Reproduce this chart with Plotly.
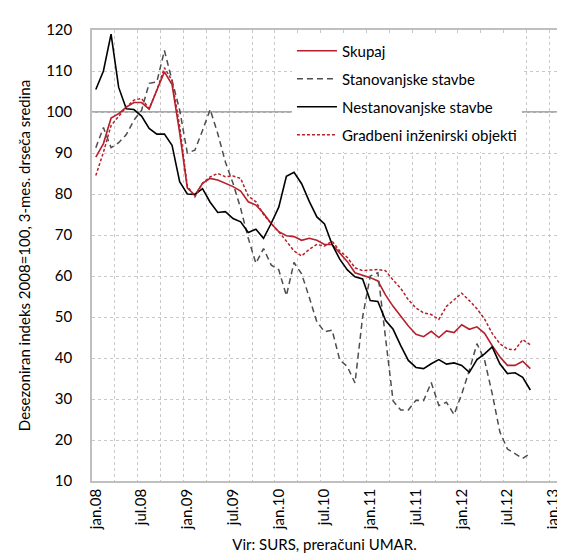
import plotly.graph_objects as go

months = list(range(58))  # jan.08 ... okt.12

skupaj = [89, 92.3, 98.5, 99.6, 101.2, 102.3, 102.3, 100.7, 105.3, 109.8, 106.7, 95,
          81.5, 79.7, 82.6, 83.8, 83.4, 82.6, 81.8, 80.7, 78.1, 77.3, 75.3, 72.8,
          70.8, 69.8, 69.6, 68.7, 69.2, 68.7, 67.7, 67.7, 65.7, 63.5, 60.8, 60.2,
          59.6, 58.8, 55.4, 52.6, 50.2, 47.8, 45.8, 45.2, 46.5, 45.0, 46.6, 46.2,
          48.1, 47.0, 47.6, 46.0, 43.0, 40.3, 38.2, 38.2, 39.2, 37.4]

stanovanjske = [91.3, 96.2, 91.3, 92.5, 94.5, 98.0, 100.4, 107.0, 107.3, 115.0, 107.7, 100.5,
                90.0, 90.7, 95.5, 100.6, 94.7, 87.8, 82.6, 76.5, 69.2, 63.1, 66.7, 62.7,
                61.5, 55.2, 63.3, 60.5, 54.8, 48.8, 46.4, 46.8, 39.5, 37.9, 33.9, 50.0,
                60.0, 60.8, 45.0, 29.5, 27.3, 27.3, 29.7, 29.6, 34.0, 28.4, 29.2, 26.2,
                31.2, 37.0, 43.5, 39.5, 31.3, 22.0, 17.8, 16.6, 15.5, 16.7]

nestanovanjske = [105.5, 110.0, 119.0, 106.0, 100.8, 100.6, 99.0, 96.0, 94.6, 94.6, 91.9, 83.0,
                  80.0, 79.9, 81.3, 78.0, 75.5, 75.7, 74.0, 73.2, 70.6, 71.4, 69.2, 72.8,
                  76.8, 84.3, 85.3, 82.5, 78.2, 74.4, 72.7, 67.7, 64.1, 61.5, 59.8, 59.3,
                  54.0, 53.8, 49.2, 47.0, 43.0, 39.4, 37.7, 37.4, 38.6, 39.6, 38.5, 38.8,
                  38.2, 36.5, 39.6, 41.0, 42.7, 38.6, 36.2, 36.4, 35.3, 32.2]

gradbeni = [84.5, 90.2, 96.7, 99.0, 101.2, 102.9, 103.3, 100.8, 105.3, 110.8, 107.7, 96.5,
            82.0, 79.3, 82.6, 84.2, 85.0, 84.2, 84.4, 83.8, 79.5, 78.1, 75.0, 72.8,
            70.8, 68.5, 66.1, 64.9, 66.5, 67.7, 67.3, 68.5, 66.1, 64.5, 62.0, 61.3,
            61.5, 61.6, 61.3, 59.0, 57.0, 54.2, 52.2, 51.0, 50.6, 49.4, 52.6, 54.2,
            55.8, 54.0, 52.0, 49.5, 46.0, 43.5, 42.2, 42.0, 44.5, 43.2]

tick_pos = [0, 6, 12, 18, 24, 30, 36, 42, 48, 54, 60]
tick_labels = ["jan.08", "jul.08", "jan.09", "jul.09", "jan.10", "jul.10",
               "jan.11", "jul.11", "jan.12", "jul.12", "jan.13"]

FONT = "Lato"
RED = "#B5202A"

fig = go.Figure()
fig.add_trace(go.Scatter(x=months, y=skupaj, name="Skupaj", mode="lines",
                         legendgroup="a", line=dict(color=RED, width=1.6)))
fig.add_trace(go.Scatter(x=months, y=stanovanjske, name="Stanovanjske stavbe", mode="lines",
                         legendgroup="b", line=dict(color="#4D4D4D", width=1.5, dash="6px,4px")))
fig.add_trace(go.Scatter(x=months, y=nestanovanjske, name="Nestanovanjske stavbe", mode="lines",
                         legendgroup="c", line=dict(color="#000000", width=1.6)))
fig.add_trace(go.Scatter(x=months, y=gradbeni, name="Gradbeni inženirski objekti", mode="lines",
                         legendgroup="d", line=dict(color=RED, width=1.5, dash="3px,2px")))

fig.add_hline(y=100, line=dict(color="#ABABAB", width=2), layer="below")

fig.update_xaxes(range=[-0.5, 60.5], tickmode="array", tickvals=tick_pos, ticktext=tick_labels,
                 tickangle=-90, showgrid=False, zeroline=False,
                 showline=True, mirror=True, linecolor="#BFBFBF", linewidth=1.5,
                 ticks="", tickfont=dict(family=FONT, size=15, color="#000"),
                 ticklabeloverflow="allow",
                 minor=dict(tickmode="linear", tick0=-0.5, dtick=3, showgrid=True,
                            gridcolor="#C8C8C8", griddash="dot", gridwidth=1),
                 title=dict(text="Vir: SURS, preračuni UMAR.", standoff=10,
                            font=dict(family=FONT, size=15, color="#000")))
fig.update_yaxes(range=[10, 120], tickmode="linear", tick0=10, dtick=10,
                 showgrid=True, gridcolor="#C8C8C8", griddash="dot", gridwidth=1,
                 zeroline=False, showline=True, mirror=True, linecolor="#BFBFBF", linewidth=1.5,
                 ticks="", ticklabelstandoff=15,
                 tickfont=dict(family=FONT, size=15, color="#000"),
                 title=dict(text="Desezoniran indeks 2008=100, 3-mes. drseča sredina", standoff=12,
                            font=dict(family=FONT, size=15, color="#000")))

fig.update_layout(
    width=565, height=555,
    margin=dict(l=84, r=14, t=20, b=81),
    paper_bgcolor="white", plot_bgcolor="white",
    font=dict(family=FONT, size=15, color="#000"),
    legend=dict(x=0.43, y=0.99, xanchor="left", yanchor="top", bgcolor="white",
                tracegroupgap=5.5, font=dict(family=FONT, size=15, color="#000"),
                itemwidth=40),
)

fig.write_html("out.html")
